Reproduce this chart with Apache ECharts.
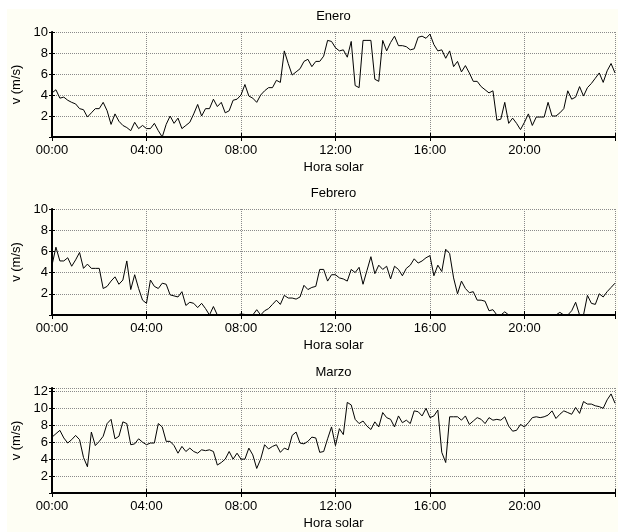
<!DOCTYPE html>
<html>
<head>
<meta charset="utf-8">
<script src="https://cdn.jsdelivr.net/npm/echarts@6/dist/echarts.min.js"></script>
<style>
  html, body { margin: 0; padding: 0; background: #fff; }
  #main { width: 618px; height: 532px; }
</style>
</head>
<body>
<div id="main"></div>
<script>
// velocidad media del viento cada 10 minutos (00:00 ... 23:50)
const months = ['Enero', 'Febrero', 'Marzo'];

const enero = [
  4.2, 4.5, 3.7, 3.8, 3.5, 3.3, 3.15, 2.7, 2.6, 1.9, 2.3, 2.7,
  2.7, 3.3, 2.5, 1.2, 2.2, 1.5, 1.1, 0.9, 0.6, 1.4, 0.8, 1.1,
  0.8, 0.8, 1.3, 0.6, 0.0, 1.2, 2.0, 1.3, 1.8, 0.8, 1.1, 1.4,
  2.2, 3.1, 2.0, 2.7, 2.7, 3.6, 2.9, 3.3, 2.3, 2.5, 3.5, 3.6,
  4.0, 5.0, 3.9, 3.7, 3.3, 4.0, 4.4, 4.7, 4.7, 5.4, 5.2, 8.2,
  7.0, 5.9, 6.2, 6.5, 7.2, 7.4, 6.7, 7.2, 7.2, 7.7, 9.2, 9.1,
  8.5, 8.2, 8.3, 7.6, 9.1, 4.9, 4.7, 9.2, 9.2, 9.2, 5.5, 5.3,
  9.2, 8.2, 9.0, 9.6, 8.7, 8.7, 8.6, 8.3, 8.4, 9.5, 9.6, 9.4,
  9.8, 8.8, 8.2, 8.3, 7.5, 8.2, 6.7, 7.2, 6.2, 6.8, 6.1, 5.3,
  5.3, 4.8, 4.5, 4.2, 4.4, 1.6, 1.7, 3.3, 1.3, 1.8, 1.3, 0.7,
  1.4, 2.2, 1.1, 1.9, 1.9, 1.9, 3.3, 2.0, 2.0, 2.3, 2.7, 4.4,
  3.6, 3.8, 4.8, 3.9, 4.7, 5.1, 5.6, 6.1, 5.2, 6.3, 7.0, 6.1
];

const febrero = [
  4.7, 6.4, 5.1, 5.1, 5.4, 4.6, 5.2, 5.9, 4.4, 4.8, 4.4, 4.4,
  4.4, 2.5, 2.7, 3.2, 3.6, 2.9, 3.3, 5.1, 2.4, 3.8, 2.5, 1.4,
  1.1, 3.3, 2.7, 2.5, 3.0, 2.9, 1.9, 1.8, 1.7, 2.2, 0.9, 1.2,
  1.1, 0.7, 1.1, 0.6, 0.0, 0.8, 0.0, 0.0, 0.0, 0.0, 0.0, 0.0,
  0.1, 0.05, 0.0, 0.0, 0.5, 0.0, 0.4, 0.6, 1.0, 1.4, 1.0, 1.85,
  1.6, 1.6, 1.5, 1.7, 2.8, 2.4, 2.6, 2.7, 4.3, 4.3, 3.2, 3.8,
  3.8, 3.5, 3.4, 3.2, 4.3, 4.0, 4.5, 2.9, 4.2, 5.5, 3.9, 4.7,
  4.3, 4.6, 3.4, 4.6, 4.3, 3.7, 4.4, 4.7, 5.3, 4.9, 5.1, 5.4,
  5.6, 3.7, 4.7, 4.1, 6.2, 5.8, 3.5, 2.0, 3.2, 2.5, 2.1, 2.2,
  1.4, 1.4, 1.3, 0.4, 0.5, 0.0, 0.0, 0.3, 0.0, 0.0, 0.0, 0.0,
  0.0, 0.0, 0.0, 0.0, 0.0, 0.0, 0.05, 0.0, 0.0, 0.25, 0.0, 0.0,
  0.4, 1.2, 0.0, 0.0, 1.85, 1.1, 1.0, 2.0, 1.7, 2.2, 2.6, 3.0
];

const marzo = [
  6.6, 7.0, 7.4, 6.5, 5.9, 6.3, 6.8, 6.3, 4.2, 3.1, 7.2, 5.6,
  6.1, 6.7, 8.2, 8.7, 6.4, 6.7, 8.4, 8.2, 5.7, 5.8, 6.4, 6.0,
  5.7, 5.9, 5.9, 8.2, 7.8, 6.1, 6.1, 5.6, 4.7, 5.5, 4.9, 5.3,
  4.9, 4.7, 5.1, 5.0, 5.1, 4.9, 3.3, 3.6, 4.0, 4.9, 4.0, 4.7,
  4.0, 4.0, 5.3, 4.5, 2.9, 4.0, 5.7, 5.2, 5.5, 5.7, 4.8, 5.3,
  5.1, 6.8, 7.2, 5.9, 5.8, 6.1, 6.6, 6.5, 4.8, 4.9, 6.4, 7.8,
  5.6, 7.6, 6.9, 10.7, 10.4, 8.7, 8.2, 8.5, 7.9, 7.5, 8.4, 7.8,
  9.5, 8.9, 8.7, 7.8, 9.1, 8.3, 8.6, 8.2, 9.7, 9.6, 9.1, 10.0,
  8.9, 9.1, 9.8, 4.8, 3.6, 9.0, 9.0, 9.0, 8.6, 9.1, 8.1, 8.5,
  8.9, 8.7, 8.2, 8.9, 8.6, 8.7, 8.6, 9.0, 7.9, 7.3, 7.4, 8.1,
  7.8, 8.3, 8.9, 9.0, 8.9, 9.0, 9.2, 9.7, 8.8, 9.3, 9.7, 9.5,
  9.3, 10.1, 9.4, 10.8, 10.5, 10.5, 10.3, 10.2, 10.0, 11.0, 11.7, 10.6
];

const seriesData = [enero, febrero, marzo];
const yMax = [10, 10, 12.4];

const FONT = '"Liberation Sans", Arial, Helvetica, sans-serif';
const gridBoxes = [
  { top: 32, height: 105 },
  { top: 209, height: 106 },
  { top: 388, height: 105 }
];
const xMax = 143 / 6;

const splitStyle = { color: '#8a8a8a', type: [1, 1], width: 1 };

let grids = [], xAxes = [], yAxes = [], series = [];

months.forEach(function (m, k) {
  grids.push({ left: 52, right: 1, top: gridBoxes[k].top, height: gridBoxes[k].height });

  xAxes.push({
    gridIndex: k, type: 'value', min: 0, max: xMax, interval: 4,
    axisLine: { lineStyle: { color: '#000', width: 2 } },
    axisTick: { inside: true, length: 4, lineStyle: { color: '#000' } },
    axisLabel: {
      color: '#000', fontSize: 13, fontFamily: FONT, margin: 7,
      formatter: function (v) { return v % 4 === 0 ? String(v).padStart(2, '0') + ':00' : ''; }
    },
    splitLine: { show: true, lineStyle: splitStyle },
    name: 'Hora solar', nameLocation: 'middle', nameGap: 24,
    nameTextStyle: { color: '#000', fontSize: 13, fontFamily: FONT }
  });
  xAxes.push({
    gridIndex: k, type: 'value', position: 'top', min: 0, max: xMax, interval: 4,
    axisLine: { lineStyle: { color: '#000', width: 1.5 } },
    axisTick: { inside: true, length: 4, lineStyle: { color: '#000' } },
    axisLabel: { show: false },
    splitLine: { show: false },
    name: m, nameLocation: 'middle', nameGap: 9,
    nameTextStyle: { color: '#000', fontSize: 13, fontFamily: FONT }
  });

  yAxes.push({
    gridIndex: k, type: 'value', min: 0, max: yMax[k], interval: 2,
    axisLine: { lineStyle: { color: '#000', width: 2 } },
    axisTick: { inside: true, length: 3, lineStyle: { color: '#000' } },
    axisLabel: {
      color: '#000', fontSize: 13, fontFamily: FONT, margin: 4,
      formatter: function (v) { return (v > 0 && v % 2 === 0) ? String(v) : ''; }
    },
    splitLine: { show: true, lineStyle: splitStyle },
    name: 'v (m/s)', nameLocation: 'middle', nameGap: 27,
    nameTextStyle: { color: '#000', fontSize: 13, fontFamily: FONT }
  });
  yAxes.push({
    gridIndex: k, type: 'value', position: 'right', min: 0, max: yMax[k], interval: 2,
    axisLine: { lineStyle: { color: '#000', width: 1 } },
    axisTick: { inside: true, length: 3, lineStyle: { color: '#000' } },
    axisLabel: { show: false },
    splitLine: { show: false }
  });

  series.push({
    type: 'line',
    xAxisIndex: 2 * k,
    yAxisIndex: 2 * k,
    showSymbol: false,
    lineStyle: { color: '#000', width: 1 },
    data: seriesData[k].map(function (v, i) { return [i / 6, v]; })
  });
});

let myChart = echarts.init(document.getElementById('main'));
myChart.setOption({
  animation: false,
  backgroundColor: '#fff',
  graphic: [{
    type: 'rect', left: 7, top: 9, z: -10, silent: true,
    shape: { width: 611, height: 523 },
    style: { fill: '#fefef4' }
  }],
  grid: grids,
  xAxis: xAxes,
  yAxis: yAxes,
  series: series
});
</script>
</body>
</html>
